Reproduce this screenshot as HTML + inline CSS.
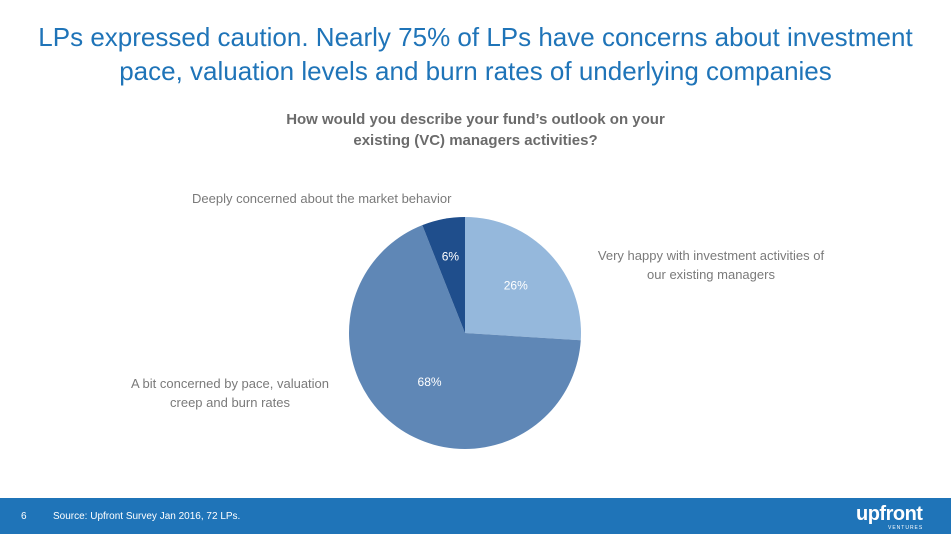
<!DOCTYPE html>
<html><head><meta charset="utf-8"><style>
body{margin:0;width:951px;height:534px;background:#fff;font-family:"Liberation Sans",sans-serif;position:relative;overflow:hidden}
.t{position:absolute;left:0;width:951px;text-align:center;color:#1f74b8;font-size:26px;line-height:34px;top:20px}
.st{position:absolute;left:0;width:951px;text-align:center;color:#6b6b6b;font-weight:bold;font-size:15px;line-height:21px;top:109px}
.lbl{position:absolute;color:#7a7a7a;font-size:13px;line-height:19px}
.foot{position:absolute;left:0;top:498px;width:951px;height:36px;background:#1f74b8;color:#fff}
</style></head><body>
<div class="t">LPs expressed caution. Nearly 75% of LPs have concerns about investment<br>pace, valuation levels and burn rates of underlying companies</div>
<div class="st">How would you describe your fund’s outlook on your<br>existing (VC) managers activities?</div>
<div class="lbl" style="left:192px;top:189px">Deeply concerned about the market behavior</div>
<div class="lbl" style="left:588px;top:246px;width:246px;text-align:center">Very happy with investment activities of<br>our existing managers</div>
<div class="lbl" style="left:110px;top:374px;width:240px;text-align:center">A bit concerned by pace, valuation<br>creep and burn rates</div>
<svg id="pie" width="951" height="534" style="position:absolute;left:0;top:0"></svg>
<div class="foot">
<span style="position:absolute;left:21px;top:13px;font-size:10px">6</span>
<span style="position:absolute;left:53px;top:13px;font-size:10px">Source: Upfront Survey Jan 2016, 72 LPs.</span>
<span style="position:absolute;left:856px;top:5px;font-size:20px;font-weight:bold;letter-spacing:-0.5px">upfront</span>
<span style="position:absolute;left:888px;top:27px;font-size:5px;letter-spacing:1px">VENTURES</span>
</div>
<script>
const categories=["Very happy","A bit concerned","Deeply concerned"];
const values=[26,68,6];
const colors=["#95b8dc","#5f87b6","#1f4e8c"];
const svg=document.getElementById('pie');
const cx=465,cy=333,r=116,ns="http://www.w3.org/2000/svg";
const total=values.reduce((a,b)=>a+b,0);
let a0=0;
values.forEach((v,i)=>{
 const a1=a0+v/total*2*Math.PI;
 const p=(a)=>[cx+r*Math.sin(a),cy-r*Math.cos(a)];
 const [x0,y0]=p(a0),[x1,y1]=p(a1);
 const path=document.createElementNS(ns,'path');
 path.setAttribute('d',`M${cx},${cy}L${x0},${y0}A${r},${r} 0 ${a1-a0>Math.PI?1:0} 1 ${x1},${y1}Z`);
 path.setAttribute('fill',colors[i]);
 
 
 svg.appendChild(path);
 const am=(a0+a1)/2,lr=v<10?0.67:(v>50?0.52:0.6);
 const t=document.createElementNS(ns,'text');
 t.setAttribute('x',cx+r*lr*Math.sin(am));
 t.setAttribute('y',cy-r*lr*Math.cos(am)+4);
 t.setAttribute('text-anchor','middle');
 t.setAttribute('fill','#fff');
 t.setAttribute('font-size','12');
 t.setAttribute('font-family','Liberation Sans, sans-serif');
 t.textContent=v+'%';
 
 
 svg.appendChild(t);
 a0=a1;
});
</script>
</body></html>
